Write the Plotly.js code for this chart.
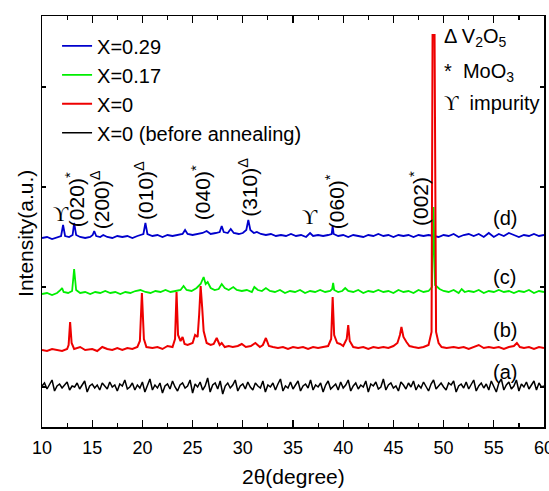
<!DOCTYPE html>
<html>
<head>
<meta charset="utf-8">
<script src="https://cdn.plot.ly/plotly-3.0.1.min.js"></script>
<style>html,body{margin:0;padding:0;background:#fff;}#chart{width:549px;height:491px;}</style>
</head>
<body>
<div id="chart"></div>
<script>
// Series names
const seriesNames = ["X=0.29", "X=0.17", "X=0", "X=0 (before annealing)"];
const curveLabels = ["(d)", "(c)", "(b)", "(a)"];

// (d) X=0.29 (blue)
const blueX = [10,10.5,11,11.5,11.9,12.1,12.3,12.7,13.05,13.2,13.4,13.8,14.3,14.8,15.05,15.2,15.4,15.8,16.1,16.5,17,17.5,18,18.5,19,19.5,20.1,20.3,20.5,21,21.5,22,22.5,23,23.5,24,24.25,24.5,25,25.5,26,26.4,26.8,27.3,27.7,27.9,28.1,28.5,28.8,29.1,29.6,30,30.35,30.55,30.75,31.1,31.4,31.8,32.3,32.8,33.3,33.8,34.3,34.8,35.3,35.8,36.3,36.7,37,37.5,38,38.5,38.85,38.95,39.05,39.5,40,40.5,41,41.5,42,42.5,43,43.5,44,44.5,45,45.5,46,46.5,47,47.5,48,48.5,49,49.5,50,50.5,51,51.5,52,52.5,53,53.5,54,54.5,55,55.5,56,56.5,57,57.5,58,58.5,59,59.5,60];
const blueY = [189,190,188,190,191,202,191,190,192,204,192,190,189,190,192,196,191,190,192,190,189,191,190,191,189,191,193,204,193,191,192,190,192,191,192,193,197,193,192,193,194,196,193,194,195,201,195,194,198,194,193,194,197,207,197,194,195,193,192,193,191,192,191,193,191,192,190,194,191,192,191,192,193,201,193,191,192,190,192,191,190,192,191,193,191,192,190,192,191,192,190,192,191,192,191,190,192,191,193,190,192,193,191,193,190,194,190,193,191,194,192,190,192,191,193,191,192];

// (c) X=0.17 (green)
const greenX = [10,10.5,11,11.5,11.85,12,12.15,12.6,13,13.2,13.4,13.8,14.3,14.8,15.3,15.8,16.3,16.8,17.3,17.8,18.3,18.8,19.3,19.8,20.3,20.8,21.3,21.8,22.3,22.8,23.3,23.8,24.1,24.4,24.9,25.4,25.8,26,26.1,26.3,26.5,26.8,27.2,27.6,27.9,28.2,28.6,29.05,29.4,29.9,30.4,30.9,31.15,31.5,31.9,32.3,32.7,33.2,33.7,34.2,34.7,35.2,35.7,36.2,36.7,37.2,37.7,38.2,38.7,38.9,39,39.1,39.5,39.9,40.2,40.5,41,41.5,42,42.5,43,43.5,44,44.5,45,45.5,46,46.5,47,47.5,48,48.5,48.85,49,49.15,49.6,50,50.5,51,51.5,51.8,52.1,52.5,53,53.5,54,54.5,55,55.5,56,56.5,57,57.5,58,58.5,59,59.5,60];
const greenY = [133,134,132,134,137,139,135,134,136,158,137,134,135,133,135,134,136,134,135,133,135,134,136,137,135,134,136,135,137,135,136,137,141,137,136,139,143,147,150,143,145,139,137,138,143,139,137,140,137,136,137,135,140,137,136,139,136,135,137,134,136,135,137,134,136,135,137,135,136,138,144,137,135,136,139,136,135,137,134,136,135,137,135,136,134,137,135,136,134,137,135,136,140,220,142,138,136,135,137,134,138,135,136,135,137,134,136,135,137,135,136,134,136,135,137,134,136,135];

// (b) X=0 (red)
const redX = [10,10.5,11,11.5,12,12.5,12.65,12.8,12.95,13.2,13.8,14.3,15,15.5,16,16.5,17,17.5,18,18.5,19,19.5,19.75,19.95,20.15,20.4,21,21.5,22,22.5,23,23.25,23.4,23.55,23.8,24,24.2,24.5,25,25.25,25.5,25.65,25.8,25.95,26.1,26.4,26.8,27.1,27.4,27.7,27.9,28.2,28.6,29,29.5,29.9,30.3,30.8,31.25,31.7,32,32.3,32.6,33,33.5,34,34.5,35,35.5,36,36.5,37,37.5,38,38.5,38.8,38.95,39.1,39.4,39.7,40,40.35,40.5,40.65,41,41.5,42,42.5,43,43.5,44,44.5,45,45.4,45.65,45.8,46,46.3,46.6,47,47.5,48,48.5,48.8,48.9,49.1,49.25,49.5,49.8,50.3,51,51.5,52,52.5,53,53.5,54,54.5,55,55.5,56,56.5,57,57.3,57.6,58,58.5,59,59.5,60];
const redY = [77,76,78,77,76,78,82,105,84,78,80,77,78,76,80,78,77,79,77,79,78,80,86,134,88,80,79,80,78,81,80,88,135,92,86,90,83,82,84,92,90,112,141,120,96,84,82,83,89,82,84,80,81,80,81,83,80,81,84,80,82,89,81,80,79,80,78,80,79,80,78,80,79,80,81,88,130,92,84,83,81,88,102,86,80,79,80,78,80,79,80,79,81,84,92,100,90,85,81,80,79,80,82,95,392,392,95,84,80,79,80,79,80,78,80,82,79,80,79,80,78,80,81,84,80,79,80,78,80,79];

// (a) X=0 before annealing (black)
const blackX = [10,10.25,10.5,10.75,11,11.25,11.5,11.75,12,12.25,12.5,12.75,13,13.25,13.5,13.75,14,14.25,14.5,14.75,15,15.25,15.5,15.75,16,16.25,16.5,16.75,17,17.25,17.5,17.75,18,18.25,18.5,18.75,19,19.25,19.5,19.75,20,20.25,20.5,20.75,21,21.25,21.5,21.75,22,22.25,22.5,22.75,23,23.25,23.5,23.75,24,24.25,24.5,24.75,25,25.25,25.5,25.75,26,26.25,26.5,26.75,27,27.25,27.5,27.75,28,28.25,28.5,28.75,29,29.25,29.5,29.75,30,30.25,30.5,30.75,31,31.25,31.5,31.75,32,32.25,32.5,32.75,33,33.25,33.5,33.75,34,34.25,34.5,34.75,35,35.25,35.5,35.75,36,36.25,36.5,36.75,37,37.25,37.5,37.75,38,38.25,38.5,38.75,39,39.25,39.5,39.75,40,40.25,40.5,40.75,41,41.25,41.5,41.75,42,42.25,42.5,42.75,43,43.25,43.5,43.75,44,44.25,44.5,44.75,45,45.25,45.5,45.75,46,46.25,46.5,46.75,47,47.25,47.5,47.75,48,48.25,48.5,48.75,49,49.25,49.5,49.75,50,50.25,50.5,50.75,51,51.25,51.5,51.75,52,52.25,52.5,52.75,53,53.25,53.5,53.75,54,54.25,54.5,54.75,55,55.25,55.5,55.75,56,56.25,56.5,56.75,57,57.25,57.5,57.75,58,58.25,58.5,58.75,59,59.25,59.5,59.75,60];
const blackY = [41,44,38,42,47,36,41,43,39,42,
45,37,41,40,44,38,42,46,35,41,
43,39,42,37,44,41,38,45,40,42,
36,43,41,47,38,40,44,37,42,39,
45,35,41,48,37,42,39,44,34,41,
43,38,46,40,36,42,44,39,41,47,
34,43,40,45,37,41,49,35,42,44,
38,46,33,41,44,39,42,47,36,41,
43,38,45,40,37,44,41,39,46,35,
42,40,44,37,43,48,36,41,39,45,
38,42,46,36,41,43,39,47,37,42,
40,44,35,42,46,38,41,43,37,45,
39,42,47,36,41,44,38,42,40,46,
35,43,41,45,38,40,48,37,42,44,
39,41,36,45,42,38,44,40,46,37,
42,39,45,41,36,43,47,38,41,44,
40,37,44,42,46,35,41,43,39,45,
38,42,47,36,41,44,39,43,37,46,
41,35,44,48,37,42,45,38,41,47,
36,43,40,45,38,42,46,37,44,40,
41];

// Peak labels
const peakLabels = ["(020)<sup>*</sup>", "(200)<sup>Δ</sup>", "(010)<sup>Δ</sup>", "(040)<sup>*</sup>", "(310)<sup>Δ</sup>", "(060)<sup>*</sup>", "(002)<sup>*</sup>"];
const peakLabelX = [13.3, 15.8, 20.15, 25.85, 30.5, 39.2, 47.55];
const peakLabelY = [227, 227, 237, 234, 240, 225, 228];
const impurityX = [11.9, 36.7];
const impurityY = [213, 210];
const curveLabelY = [209, 150, 97, 55];

const traces = [
  {x: blueX, y: blueY, name: seriesNames[0], line: {color: "#0000cc", width: 1.8}},
  {x: greenX, y: greenY, name: seriesNames[1], line: {color: "#00ee00", width: 1.8}},
  {x: redX, y: redY, name: seriesNames[2], line: {color: "#ee0000", width: 2}},
  {x: blackX, y: blackY, name: seriesNames[3], line: {color: "#000000", width: 1.5}}
].map(t => Object.assign({type: "scatter", mode: "lines"}, t));

const F = "Arial, 'Liberation Sans', sans-serif";
const annotations = [];
peakLabels.forEach((t, i) => annotations.push({
  x: peakLabelX[i], y: peakLabelY[i], xref: "x", yref: "y", text: t, textangle: -90,
  xanchor: "center", yanchor: "middle",
  showarrow: false, font: {family: F, size: 21, color: "#000"}
}));
impurityX.forEach((v, i) => annotations.push({
  x: v, y: impurityY[i], xref: "x", yref: "y", text: "ϒ", showarrow: false,
  xanchor: "center", yanchor: "middle",
  font: {family: "'Liberation Serif', 'DejaVu Serif', serif", size: 21, color: "#000"}
}));
curveLabels.forEach((t, i) => annotations.push({
  x: 56.1, y: curveLabelY[i], xref: "x", yref: "y", text: t, showarrow: false,
  xanchor: "center", yanchor: "middle",
  font: {family: F, size: 20, color: "#000"}
}));
// Symbol key (top right)
annotations.push({x: 0.797, y: 390, xref: "paper", yref: "y", xanchor: "left", yanchor: "middle", text: "Δ V<sub>2</sub>O<sub>5</sub>", showarrow: false, font: {family: F, size: 20, color: "#000"}});
annotations.push({x: 0.797, y: 355, xref: "paper", yref: "y", xanchor: "left", yanchor: "middle", text: "*  MoO<sub>3</sub>", showarrow: false, font: {family: F, size: 20, color: "#000"}});
annotations.push({x: 0.797, y: 324, xref: "paper", yref: "y", xanchor: "left", yanchor: "middle", text: "<span style='font-family:Liberation Serif'>ϒ</span>  impurity", showarrow: false, font: {family: F, size: 20, color: "#000"}});
// Axis titles
annotations.push({x: 0.5, y: -0.12, xref: "paper", yref: "paper", xanchor: "center", yanchor: "middle", text: "2θ(degree)", showarrow: false, font: {family: F, size: 21, color: "#000"}});
annotations.push({x: -0.034, y: 0.472, xref: "paper", yref: "paper", xanchor: "center", yanchor: "middle", text: "Intensity(a.u.)", textangle: -90, showarrow: false, font: {family: F, size: 21, color: "#000"}});

const layout = {
  width: 549, height: 491,
  margin: {l: 42, r: 5, t: 16, b: 64, pad: 0},
  paper_bgcolor: "#fff", plot_bgcolor: "#fff",
  showlegend: true,
  legend: {x: 0.03, y: 0.975, xanchor: "left", yanchor: "top", bgcolor: "rgba(0,0,0,0)",
    font: {family: F, size: 20, color: "#000"}, tracegroupgap: 0},
  xaxis: {range: [10, 60], showgrid: false, zeroline: false, showline: true, mirror: "ticks",
    linecolor: "#000", linewidth: 1.5, ticks: "inside", ticklen: 7, tickwidth: 1.2, tickcolor: "#000",
    dtick: 5, tick0: 10, tickfont: {family: F, size: 18, color: "#000"},
    ticklabeloverflow: "allow", ticklabelstandoff: 4,
    minor: {ticks: "inside", ticklen: 4, dtick: 2.5, tickcolor: "#000", tickwidth: 1.2}},
  yaxis: {range: [0, 411], showgrid: false, zeroline: false, showline: true, mirror: "ticks",
    linecolor: "#000", linewidth: 1.5, ticks: "inside", ticklen: 4, tickwidth: 1.2, tickcolor: "#000",
    dtick: 100, tick0: 40, showticklabels: false},
  annotations: annotations
};

Plotly.newPlot("chart", traces, layout, {staticPlot: true, displayModeBar: false});
</script>
</body>
</html>
